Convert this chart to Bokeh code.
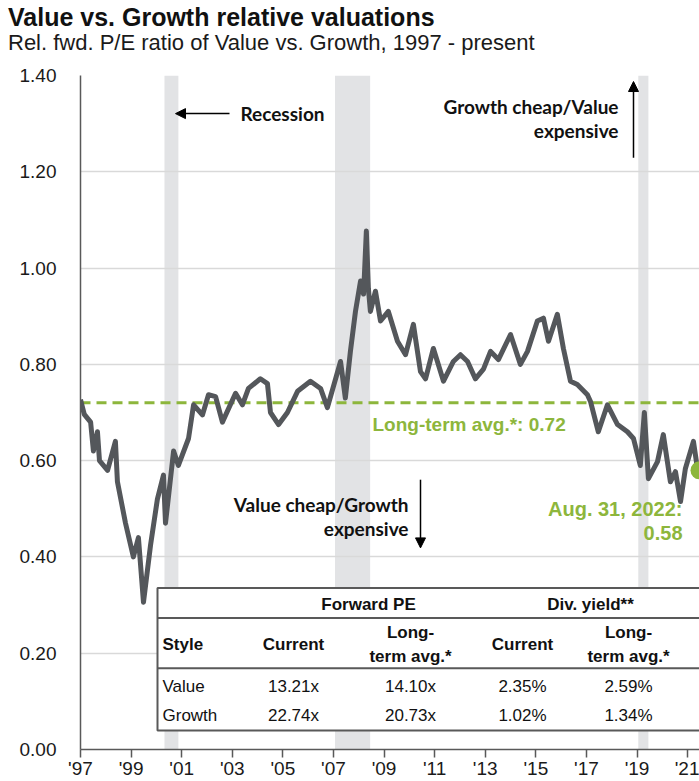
from bokeh.plotting import figure
from bokeh.models import (Label, Arrow, NormalHead, FixedTicker,
                          NumeralTickFormatter, Div)
from bokeh.layouts import column
from bokeh.embed import file_html
from bokeh.resources import INLINE

# ---------------- data ----------------
years = [1997.00, 1997.15, 1997.40, 1997.51, 1997.67, 1997.75, 1998.07, 1998.38, 1998.46,
         1998.78, 1999.09, 1999.29, 1999.49, 1999.77, 2000.04, 2000.28, 2000.36, 2000.68,
         2000.87, 2001.27, 2001.47, 2001.82, 2002.06, 2002.34, 2002.61, 2003.13, 2003.40,
         2003.64, 2004.11, 2004.39, 2004.51, 2004.83, 2005.18, 2005.58, 2006.09, 2006.49,
         2006.76, 2007.28, 2007.47, 2007.67, 2007.87, 2008.07, 2008.19, 2008.30, 2008.38,
         2008.46, 2008.66, 2008.86, 2009.17, 2009.53, 2009.85, 2010.16, 2010.44, 2010.64,
         2010.95, 2011.35, 2011.74, 2012.02, 2012.30, 2012.61, 2012.93, 2013.21, 2013.52,
         2014.00, 2014.39, 2014.67, 2015.06, 2015.30, 2015.50, 2015.85, 2016.09, 2016.37,
         2016.64, 2017.04, 2017.16, 2017.47, 2017.83, 2018.23, 2018.62, 2018.86, 2019.13,
         2019.29, 2019.45, 2019.81, 2020.04, 2020.32, 2020.52, 2020.72, 2020.91, 2021.23,
         2021.39, 2021.47]
rel_pe = [0.727, 0.696, 0.68, 0.62, 0.66, 0.60, 0.58, 0.64, 0.556,
          0.47, 0.40, 0.44, 0.306, 0.425, 0.52, 0.57, 0.47, 0.62,
          0.59, 0.646, 0.716, 0.695, 0.737, 0.733, 0.68, 0.74, 0.716,
          0.75, 0.77, 0.76, 0.70, 0.675, 0.70, 0.744, 0.765, 0.75,
          0.71, 0.806, 0.73, 0.827, 0.91, 0.973, 0.946, 1.077, 0.958,
          0.91, 0.952, 0.89, 0.91, 0.848, 0.82, 0.883, 0.785, 0.77,
          0.833, 0.765, 0.806, 0.82, 0.806, 0.77, 0.79, 0.827, 0.81,
          0.862, 0.80, 0.827, 0.89, 0.896, 0.848, 0.904, 0.833, 0.765,
          0.758, 0.737, 0.723, 0.66, 0.716, 0.675, 0.66, 0.646, 0.59,
          0.70, 0.5625, 0.598, 0.654, 0.556, 0.577, 0.515, 0.583, 0.64,
          0.583, 0.58]

recession_start = [2000.32, 2007.06, 2019.05]
recession_end = [2000.87, 2008.45, 2019.45]

long_term_avg = 0.72
current_date = 2021.47
current_value = 0.58

tick_years = [1997, 1999, 2001, 2003, 2005, 2007, 2009, 2011, 2013, 2015, 2017, 2019, 2021]
tick_labels = ["'97", "'99", "'01", "'03", "'05", "'07", "'09", "'11", "'13", "'15", "'17", "'19", "'21"]
y_ticks = [0.0, 0.2, 0.4, 0.6, 0.8, 1.0, 1.2, 1.4]

title_text = "Value vs. Growth relative valuations"
subtitle_text = "Rel. fwd. P/E ratio of Value vs. Growth, 1997 - present"

table_header_top = ["Forward PE", "Div. yield**"]
table_cols = ["Style", "Current", "Long-\nterm avg.*", "Current", "Long-\nterm avg.*"]
table_styles = ["Value", "Growth"]
fwd_pe_current = ["13.21x", "22.74x"]
fwd_pe_avg = ["14.10x", "20.73x"]
div_current = ["2.35%", "1.02%"]
div_avg = ["2.59%", "1.34%"]

# ---------------- styling ----------------
LINE = "#54575b"
GREEN = "#8db63c"
BAND = "#e2e3e5"
GRID = "#d9d9d9"
AXIS = "#595959"
SANS = "Liberation Sans"
CAL = "Lato"

X0, X1 = 1997.0, 2021.47
Y0, Y1 = 0.0, 1.4

HEAD = 55  # height taken by the two title lines above the figure

title_div = Div(text=title_text, width=691, height=28, margin=(3, 0, 0, 8),
                styles={"font-family": SANS, "font-size": "25px", "font-weight": "bold",
                        "line-height": "28px", "color": "#111111", "white-space": "nowrap"})
subtitle_div = Div(text=subtitle_text, width=691, height=24, margin=(0, 0, 0, 8),
                   styles={"font-family": SANS, "font-size": "22px", "font-weight": "normal",
                           "line-height": "24px", "color": "#1a1a1a", "white-space": "nowrap"})

p = figure(width=699, height=781 - HEAD, output_backend="svg", toolbar_location=None,
           x_range=(X0, X1), y_range=(Y0, Y1),
           min_border_left=80, min_border_right=0, min_border_top=75 - HEAD,
           min_border_bottom=30)
p.outline_line_color = None
p.background_fill_color = "white"

# pixel helpers (page px: frame left 80, right 699; top 75, bottom 747)
def X(px):
    return X0 + (px - 80) / (699 - 80) * (X1 - X0)

def Y(py):
    return Y0 + (747 - py) / (747 - 75) * (Y1 - Y0)

def lab(px, py, text, color="#111111", font=SANS, size="17px", bold=False,
        align="left", baseline="middle"):
    p.add_layout(Label(x=X(px), y=Y(py), text=text, text_color=color,
                       text_font=font, text_font_size=size,
                       text_font_style="bold" if bold else "normal",
                       text_align=align, text_baseline=baseline))

# recession bands
p.quad(left=recession_start, right=recession_end, bottom=Y0, top=Y1,
       fill_color=BAND, line_color=None, level="underlay")

# long-term average
p.line(x=[X0, X1], y=[long_term_avg, long_term_avg], line_color=GREEN,
       line_width=3, line_dash="10 6")

# main series
p.line(x=years, y=rel_pe, line_color=LINE, line_width=5, line_join="round")

# current dot
p.scatter(x=[current_date], y=[current_value], size=18, fill_color=GREEN,
          line_color=None)

# axes
p.xaxis.ticker = FixedTicker(ticks=tick_years)
p.xaxis.major_label_overrides = {t: l for t, l in zip(tick_years, tick_labels)}
p.xaxis.major_tick_out = 8
p.xaxis.major_tick_in = 0
p.xaxis.minor_tick_line_color = None
p.xaxis.major_label_standoff = 0
p.yaxis.ticker = FixedTicker(ticks=y_ticks)
p.yaxis.formatter = NumeralTickFormatter(format="0.00")
p.yaxis.major_tick_line_color = None
p.yaxis.minor_tick_line_color = None
p.yaxis.major_label_standoff = 18
for ax in (p.xaxis, p.yaxis):
    ax.axis_line_color = AXIS
    ax.axis_line_width = 1.5
    ax.major_tick_line_width = 1.5
    ax.major_label_text_font = SANS
    ax.major_label_text_font_size = "19px"
    ax.major_label_text_color = "#1a1a1a"
p.xaxis.major_tick_line_color = AXIS
p.xgrid.grid_line_color = None
p.ygrid.grid_line_color = GRID
p.ygrid.grid_line_width = 1.5

# green annotations
lab(372, 423, "Long-term avg.*: %.2f" % long_term_avg, color=GREEN, size="19px", bold=True)
lab(682, 507, "Aug. 31, 2022:", color=GREEN, size="20px", bold=True, align="right")
lab(682, 531, "%.2f" % current_value, color=GREEN, size="20px", bold=True, align="right")

# recession arrow
lab(240, 113, "Recession", font=CAL, size="19px", bold=True)
p.add_layout(Arrow(end=NormalHead(size=10, fill_color="black", line_color="black"),
                   x_start=X(229), y_start=Y(113), x_end=X(175), y_end=Y(113),
                   line_color="black", line_width=1.5))

# growth cheap arrow
lab(618, 106, "Growth cheap/Value", font=CAL, size="19px", bold=True, align="right")
lab(618, 130, "expensive", font=CAL, size="19px", bold=True, align="right")
p.add_layout(Arrow(end=NormalHead(size=10, fill_color="black", line_color="black"),
                   x_start=X(633), y_start=Y(157), x_end=X(633), y_end=Y(81),
                   line_color="black", line_width=1.5))

# value cheap arrow
lab(408, 503, "Value cheap/Growth", font=CAL, size="19px", bold=True, align="right")
lab(408, 527, "expensive", font=CAL, size="19px", bold=True, align="right")
p.add_layout(Arrow(end=NormalHead(size=10, fill_color="black", line_color="black"),
                   x_start=X(420), y_start=Y(478), x_end=X(420), y_end=Y(546),
                   line_color="black", line_width=1.5))

# table
p.quad(left=[X(157)], right=[X(760)], top=[Y(586)], bottom=[Y(728)],
       fill_color="white", line_color=AXIS, line_width=2)
p.segment(x0=[X(157), X(157)], x1=[X(760), X(760)], y0=[Y(616), Y(666)],
          y1=[Y(616), Y(666)], line_color=AXIS, line_width=2)

lab(368, 602, table_header_top[0], bold=True, align="center")
lab(590, 602, table_header_top[1], bold=True, align="center")
col_x = [162, 293, 410, 522, 628]
for i, c in enumerate(table_cols):
    parts = c.split("\n")
    al = "left" if i == 0 else "center"
    if len(parts) == 1:
        lab(col_x[i], 642, parts[0], bold=True, align=al)
    else:
        lab(col_x[i], 630, parts[0], bold=True, align=al)
        lab(col_x[i], 654, parts[1], bold=True, align=al)
row_y = [684, 713]
for r in range(2):
    lab(col_x[0], row_y[r], table_styles[r])
    lab(col_x[1], row_y[r], fwd_pe_current[r], align="center")
    lab(col_x[2], row_y[r], fwd_pe_avg[r], align="center")
    lab(col_x[3], row_y[r], div_current[r], align="center")
    lab(col_x[4], row_y[r], div_avg[r], align="center")

layout = column(title_div, subtitle_div, p, spacing=0)
open("out.html", "w").write(file_html(layout, INLINE))
